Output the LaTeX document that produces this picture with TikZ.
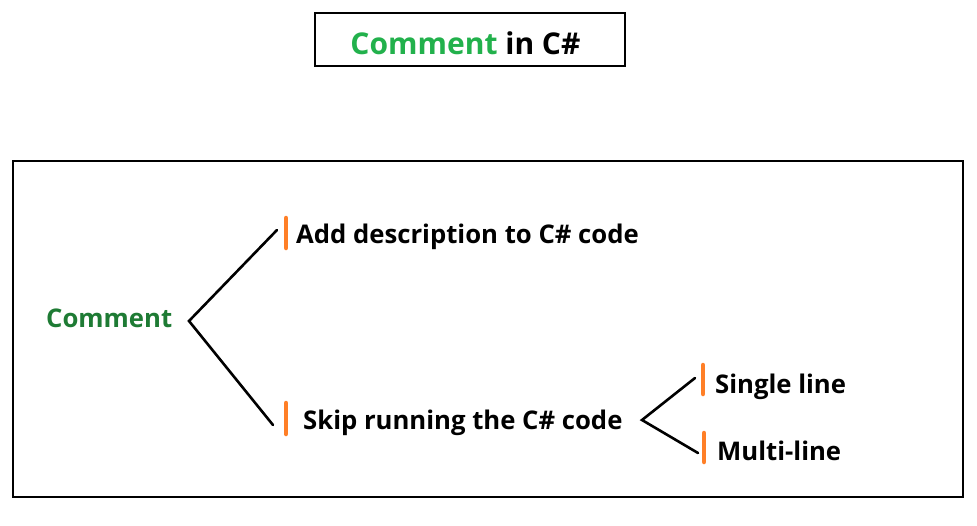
\documentclass[tikz,border=0pt]{standalone}
\usepackage{fontspec}
\setmainfont{Open Sans}
\definecolor{brightgreen}{HTML}{22B14C}
\definecolor{darkgreen}{HTML}{1E7B34}
\definecolor{barorange}{HTML}{FF7F27}
\tikzset{
  lbl/.style={inner sep=0pt, font=\fontsize{25.7}{30}\selectfont\bfseries},
  ttl/.style={inner sep=0pt, font=\fontsize{30}{34}\selectfont\bfseries},
  frame/.style={draw=black, line width=2.6pt},
  branch/.style={draw=black, line width=2.6pt, line cap=round},
  bar/.style={draw=barorange, line width=4.5pt, line cap=round}
}
\begin{document}
\begin{tikzpicture}[x=1pt,y=-1pt]
\useasboundingbox (0,0) rectangle (977,525);
\fill[white] (0,0) rectangle (977,525);
% title
\draw[frame] (315,13) rectangle (625,66);
\node[ttl, anchor=base] (title) at (465.5,54) {\textcolor{brightgreen}{Comment} in C\#};
% main frame
\draw[frame] (13,161) rectangle (963,497);
% root
\node[lbl, anchor=base west, text=darkgreen] (root) at (46,327) {Comment};
\coordinate (rb) at (189,321);
\coordinate (ra) at (277,230);
\coordinate (rs) at (273,425);
\draw[branch] (ra) -- (rb) -- (rs);
% first child
\draw[bar] (286,218) -- (286,248);
\node[lbl, anchor=base west] (add) at (296,243) {Add description to C\# code};
% second child
\draw[bar] (286,403) -- (286,434);
\node[lbl, anchor=base west] (skip) at (303,429) {Skip running the C\# code};
\coordinate (sb) at (642,420);
\coordinate (sa) at (695,378);
\coordinate (sc) at (698,453);
\draw[branch] (sa) -- (sb) -- (sc);
\draw[bar] (703,365) -- (703,394);
\node[lbl, anchor=base west] (single) at (715,393) {Single line};
\draw[bar] (704,433) -- (704,462);
\node[lbl, anchor=base west] (multi) at (717,460) {Multi-line};
\end{tikzpicture}
\end{document}
